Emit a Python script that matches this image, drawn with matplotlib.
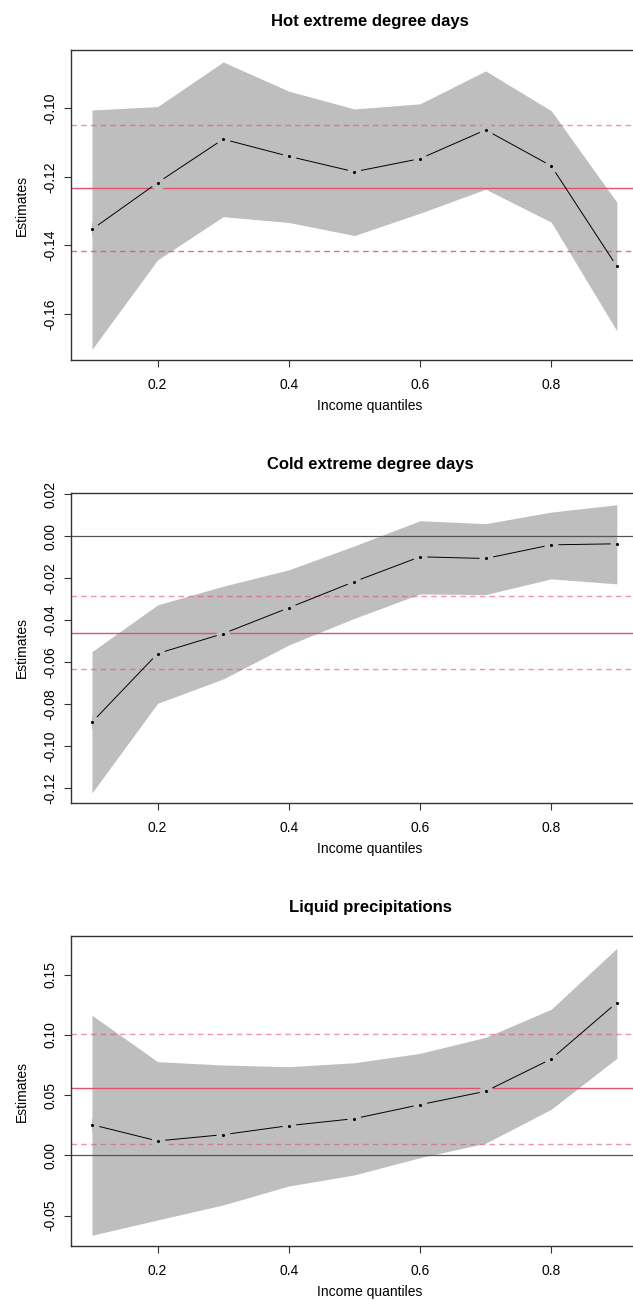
import matplotlib.pyplot as plt
import numpy as np

plt.rcParams['font.family'] = ['Liberation Sans', 'DejaVu Sans']

quantiles = [0.1, 0.2, 0.3, 0.4, 0.5, 0.6, 0.7, 0.8, 0.9]

# Hot extreme degree days
hot_est = [-0.1353, -0.1217, -0.1090, -0.1140, -0.1185, -0.1147, -0.1063, -0.1168, -0.1461]
hot_hi = [-0.1005, -0.0995, -0.0865, -0.0950, -0.1002, -0.0987, -0.0891, -0.1007, -0.1274]
hot_lo = [-0.1703, -0.1442, -0.1316, -0.1333, -0.1371, -0.1306, -0.1236, -0.1332, -0.1649]
hot_mean = [-0.1232, -0.1048, -0.1417]   # mean, upper, lower

# Cold extreme degree days
cold_est = [-0.0885, -0.0558, -0.0463, -0.0340, -0.0215, -0.0097, -0.0105, -0.0040, -0.0035]
cold_hi = [-0.0549, -0.0326, -0.0237, -0.0159, -0.0045, 0.0075, 0.0061, 0.0116, 0.0151]
cold_lo = [-0.1222, -0.0795, -0.0679, -0.0517, -0.0390, -0.0274, -0.0277, -0.0202, -0.0226]
cold_mean = [-0.0458, -0.0286, -0.0630]

# Liquid precipitations
liq_est = [0.0254, 0.0119, 0.0171, 0.0246, 0.0304, 0.0420, 0.0531, 0.0799, 0.1267]
liq_hi = [0.1162, 0.0777, 0.0749, 0.0735, 0.0768, 0.0846, 0.0979, 0.1212, 0.1718]
liq_lo = [-0.0664, -0.0537, -0.0412, -0.0255, -0.0163, -0.0020, 0.0100, 0.0382, 0.0805]
liq_mean = [0.0556, 0.1007, 0.0096]

panels = [
    ("Hot extreme degree days", hot_est, hot_lo, hot_hi, hot_mean,
     (-0.1734, -0.083), [-0.16, -0.14, -0.12, -0.10], False, 50),
    ("Cold extreme degree days", cold_est, cold_lo, cold_hi, cold_mean,
     (-0.127, 0.0207), [-0.12, -0.10, -0.08, -0.06, -0.04, -0.02, 0.00, 0.02], True, 493),
    ("Liquid precipitations", liq_est, liq_lo, liq_hi, liq_mean,
     (-0.0753, 0.182), [-0.05, 0.00, 0.05, 0.10, 0.15], True, 936),
]

W, H = 633, 1300
fig = plt.figure(figsize=(W / 100, H / 100), dpi=100)

red = '#DF536B'
band = '#BEBEBE'

for title, est, lo, hi, mean, ylim, yticks, zero, top in panels:
    ax = fig.add_axes([71 / W, 1 - (top + 310) / H, (669 - 71) / W, 310 / H])
    poly = ax.fill_between(quantiles, lo, hi, color=band, lw=0)
    if zero:
        ax.axhline(0, color='#555555', lw=0.9)
    ax.axhline(mean[0], color=red, lw=1.0)
    ax.axhline(mean[1], color=red, lw=1.0, ls=(0, (4, 3)), alpha=0.6)
    ax.axhline(mean[2], color=red, lw=1.0, ls=(0, (4, 3)), alpha=0.85 if not zero else 0.6)
    ax.plot(quantiles, est, color='black', lw=0.7)
    # gaps around the points (type = "b"), only visible inside the band
    gaps, = ax.plot(quantiles, est, 'o', ms=10, mfc=band, mec='none')
    gaps.set_clip_path(poly.get_paths()[0], poly.get_transform())
    ax.plot(quantiles, est, 'o', ms=1.2, color='black')

    ax.set_xlim(0.068, 0.9795)
    ax.set_ylim(*ylim)
    ax.set_xticks([0.2, 0.4, 0.6, 0.8])
    ax.set_xticklabels(['0.2', '0.4', '0.6', '0.8'])
    ax.set_yticks(yticks)
    ax.set_yticklabels(['%.2f' % v for v in yticks], rotation=90, va='center')
    ax.tick_params(length=5, width=0.8, labelsize=10, color='#333333')
    ax.tick_params(axis='x', pad=8)
    ax.tick_params(axis='y', pad=5)
    for s in ax.spines.values():
        s.set_color('#333333')
        s.set_linewidth(1.0)

    ax.set_title(title, fontsize=12, fontweight='bold', pad=17)
    ax.set_xlabel('Income quantiles', fontsize=10, labelpad=5)
    ax.set_ylabel('Estimates', fontsize=10, labelpad=10)

fig.savefig('out.png', dpi=100)
